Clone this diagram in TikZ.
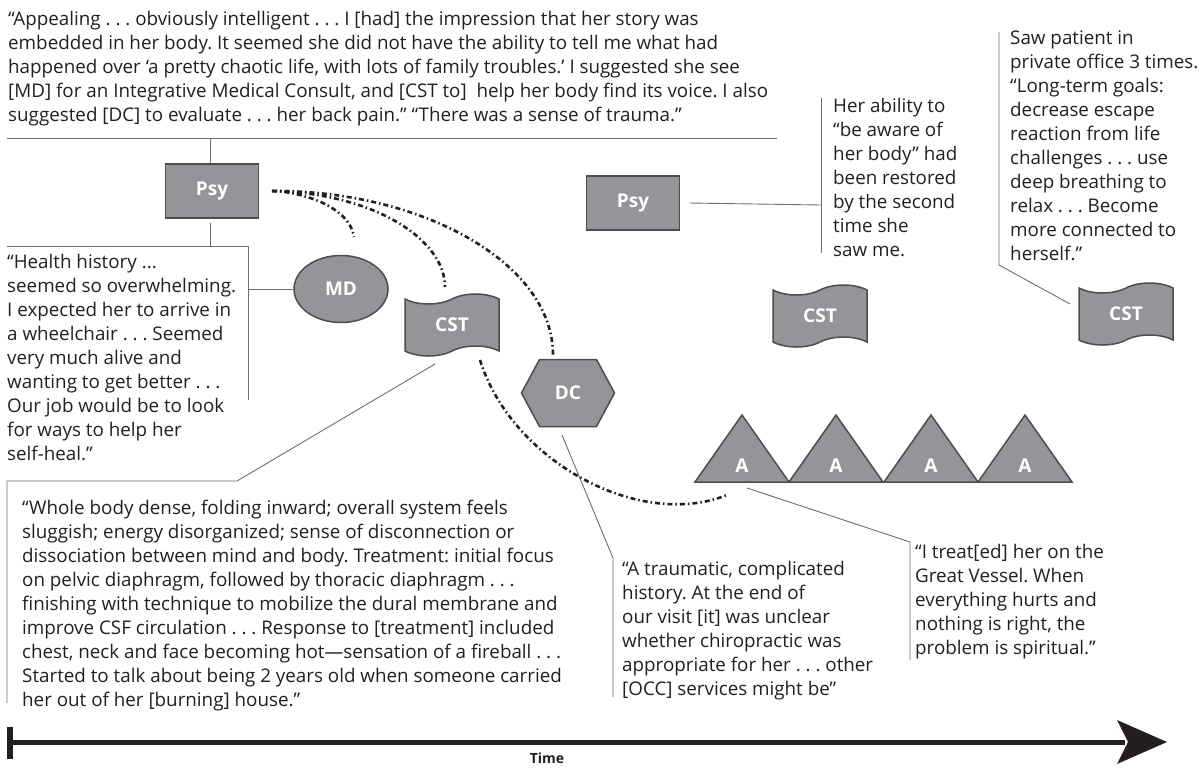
\documentclass[tikz,border=0pt]{standalone}
\usepackage{fontspec}
\setmainfont{Open Sans}
\usetikzlibrary{shapes.symbols,shapes.geometric,calc}
\definecolor{txt}{HTML}{231F20}
\definecolor{nodefill}{HTML}{939598}
\definecolor{nodeline}{HTML}{4D4D4F}
\definecolor{thin}{HTML}{6D6E71}
\tikzset{
  shp/.style={fill=nodefill, draw=nodeline, line width=1.5pt},
  lbl/.style={text=white, font=\fontsize{19}{21}\selectfont\bfseries},
  conn/.style={draw=thin, line width=0.9pt},
  dd/.style={line width=2.6pt, draw=txt, dash pattern=on 5pt off 3pt on 1.5pt off 3pt},
  para/.style={anchor=base west, align=left, inner sep=0pt, text=txt, font=\fontsize{18.8}{24}\selectfont},
  cstshape/.style={shp, lbl, tape, minimum width=94pt, minimum height=62pt, tape bend height=10pt},
}
\begin{document}
\frenchspacing
\begin{tikzpicture}[x=1pt,y=-1pt]
\useasboundingbox (0,0) rectangle (1202,769);

% ---- texts (anchored at the baseline of their last line)
\node[para] (toptext) at (8,121) {“Appealing . . . obviously intelligent . . . I [had] the impression that her story was\\
embedded in her body. It seemed she did not have the ability to tell me what had\\
happened over ‘a pretty chaotic life, with lots of family troubles.’ I suggested she see\\
{}[MD] for an Integrative Medical Consult, and [CST to]\ \ help her body find its voice. I also\\
suggested [DC] to evaluate . . . her back pain.” “There was a sense of trauma.”};

\node[para] (health) at (7,460) {“Health history ...\\
seemed so overwhelming.\\
I expected her to arrive in\\
a wheelchair . . . Seemed\\
very much alive and\\
wanting to get better . . .\\
Our job would be to look\\
for ways to help her\\
self-heal.”};

\node[para] (ability) at (833,256) {Her ability to\\
“be aware of\\
her body” had\\
been restored\\
by the second\\
time she\\
saw me.};

\node[para] (saw) at (1010,260) {Saw patient in\\
private office 3 times.\\
“Long-term goals:\\
decrease escape\\
reaction from life\\
challenges . . . use\\
deep breathing to\\
relax . . . Become\\
more connected to\\
herself.”};

\node[para] (whole) at (22,706) {“Whole body dense, folding inward; overall system feels\\
sluggish; energy disorganized; sense of disconnection or\\
dissociation between mind and body. Treatment: initial focus\\
on pelvic diaphragm, followed by thoracic diaphragm . . .\\
finishing with technique to mobilize the dural membrane and\\
improve CSF circulation . . . Response to [treatment] included\\
chest, neck and face becoming hot—sensation of a fireball . . .\\
Started to talk about being 2 years old when someone carried\\
her out of her [burning] house.”};

\node[para] (dctext) at (622,695) {“A traumatic, complicated\\
history. At the end of\\
our visit [it] was unclear\\
whether chiropractic was\\
appropriate for her . . . other\\
{}[OCC] services might be”};

\node[para] (treat) at (915,654) {“I treat[ed] her on the\\
Great Vessel. When\\
everything hurts and\\
nothing is right, the\\
problem is spiritual.”};

% ---- shapes
\node[shp, lbl, rectangle, minimum width=93pt, minimum height=54pt] (psy1) at (212,191) {Psy};
\node[shp, lbl, rectangle, minimum width=93pt, minimum height=54pt] (psy2) at (633,203) {Psy};
\node[shp, lbl, ellipse, minimum width=94pt, minimum height=67pt, inner sep=0pt] (md) at (341,289) {MD};
\node[cstshape] (cst1) at (452,325) {CST};
\node[cstshape] (cst2) at (820,316) {CST};
\node[cstshape] (cst3) at (1126,314) {CST};

\coordinate (dcc) at (568,393);
\filldraw[shp] ($(dcc)+(-46.5,0)$) -- ++(18,-33.5) -- ++(57,0) -- ++(18,33.5) -- ++(-18,33.5) -- ++(-57,0) -- cycle;
\node[lbl] (dc) at (dcc) {DC};

\foreach \i/\x in {1/742,2/836,3/931,4/1025}{
  \filldraw[shp] (\x-47,482) -- (\x,415) -- (\x+47,482) -- cycle;
  \node[lbl] (a\i) at (\x,466) {A};
}

% ---- thin connectors
\coordinate (topL) at (7,138);
\coordinate (topR) at (777,138);
\coordinate (topJ) at (210,138);
\draw[conn] (topL) -- (topR);
\draw[conn] (topJ) -- (topJ |- psy1.north);

\coordinate (hJ) at (210,246);
\coordinate (hL) at (7,246);
\coordinate (hR) at (248,246);
\coordinate (hB) at (248,400);
\coordinate (hM) at (248,289);
\draw[conn] ([yshift=-4pt]hJ |- psy1.south) -- (hJ);
\draw[conn] (hL) -- (hR) -- (hB);
\draw[conn] (hM) -- (md.west);

\coordinate (abT) at (821,98);
\coordinate (abB) at (821,253);
\coordinate (abM) at (821,205);
\draw[conn] (abT) -- (abB);
\draw[conn] ([xshift=9pt]psy2.east) -- (abM);

\coordinate (swT) at (999,32);
\coordinate (swB) at (999,265);
\coordinate (swC) at (1070,304);
\draw[conn] (swT) -- (swB) -- (swC);

\coordinate (wbB) at (7,703);
\coordinate (wbT) at (7,481);
\coordinate (wbR) at (237,481);
\coordinate (wbC) at (435,364);
\draw[conn] (wbB) -- (wbT) -- (wbR) -- (wbC);

\coordinate (dcS) at (562,435);
\coordinate (dcT) at (613,558);
\coordinate (dcB) at (613,697);
\draw[conn] (dcS) -- (dcT) -- (dcB);

\coordinate (trS) at (747,488);
\coordinate (trT) at (910,542);
\coordinate (trB) at (910,660);
\draw[conn] (trS) -- (trT) -- (trB);

% ---- dash-dot curves
\coordinate (d0) at (272,191);
\coordinate (dmd) at (354,237);
\coordinate (dcst) at (445,287);
\coordinate (ddc) at (553,355);
\coordinate (c1) at (480,360);
\coordinate (ca) at (727,495);
\draw[dd] (d0) .. controls (305,192) and (350,208) .. (dmd);
\draw[dd] (d0) .. controls (375,193) and (445,240) .. (dcst);
\draw[dd] (d0) .. controls (420,190) and (553,262) .. (ddc);
\draw[dd] (c1) .. controls (512,462) and (640,530) .. (ca);

% ---- time arrow
\coordinate (tS) at (10,742);
\coordinate (tE) at (1125,742);
\draw[txt, line width=5pt] (tS) -- (tE);
\fill[txt] (7,727) rectangle (13,759);
\fill[txt] (1167,742) -- (1117,720) -- (1128,742) -- (1117,764) -- cycle;
\node[text=txt, font=\fontsize{14}{16}\selectfont\bfseries] (time) at (547,758) {Time};
\end{tikzpicture}
\end{document}
